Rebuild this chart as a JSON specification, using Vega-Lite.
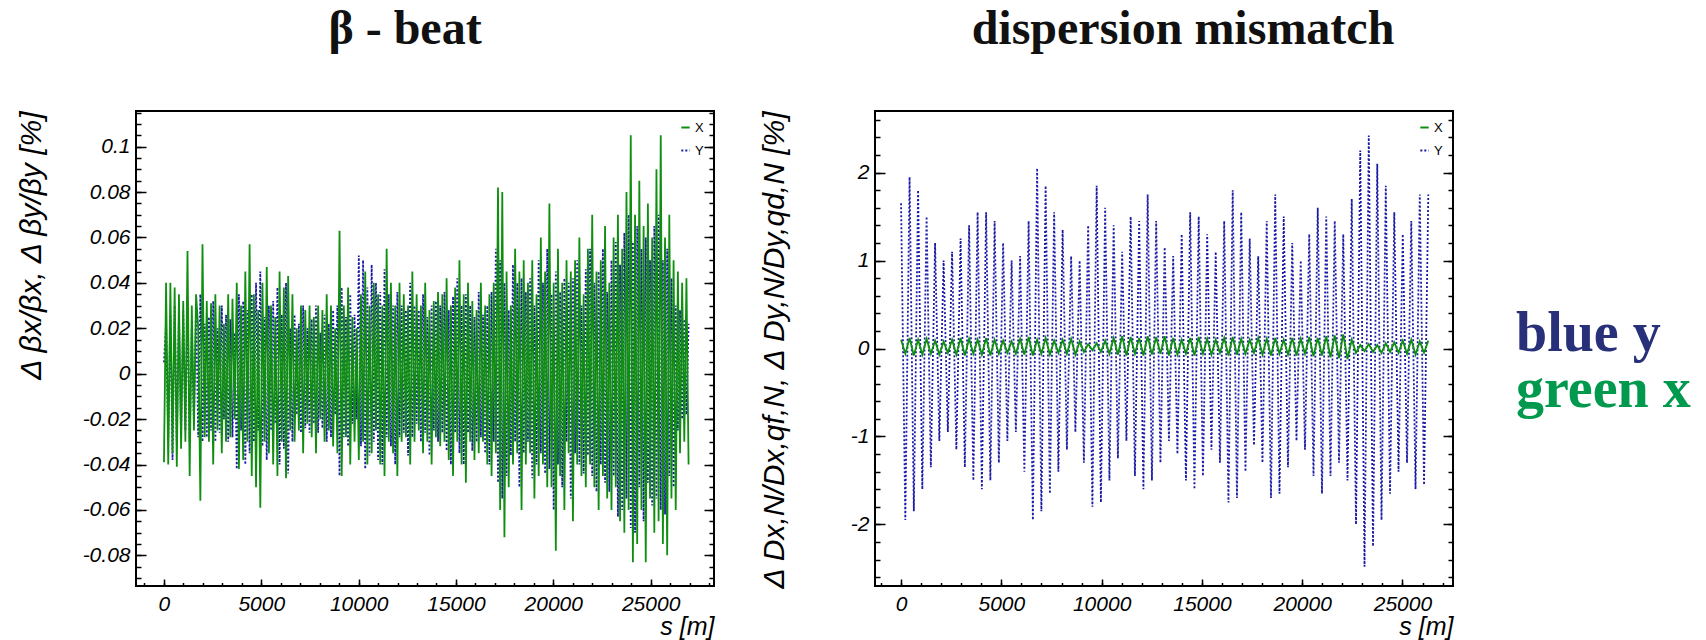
{
 "$schema": "https://vega.github.io/schema/vega-lite/v6.json",
 "padding": {"left": 14, "top": 5, "right": 0, "bottom": 0},
 "background": "white",
 "config": {
  "view": {"stroke": "#000", "strokeWidth": 2},
  "axis": {"grid": false, "domain": false, "tickColor": "#000", "tickWidth": 1.5, "labelFont": "Liberation Sans", "labelFontStyle": "italic", "labelFontSize": 21, "labelColor": "#000", "titleFont": "Liberation Sans", "titleFontStyle": "italic", "titleFontWeight": "normal", "titleColor": "#000", "labelOverlap": false, "labelFlush": false},
  "title": {"font": "Liberation Serif", "fontWeight": "bold", "fontSize": 48, "color": "#111", "offset": 57},
  "legend": {"orient": "top-right", "offset": 8, "padding": 2, "symbolType": "stroke", "symbolSize": 70, "symbolStrokeWidth": 2, "labelFont": "Liberation Sans", "labelFontSize": 13, "labelColor": "#000", "rowPadding": 9, "labelOffset": 3}
 },
 "datasets": {
  "beta": [
   {"s":0,"X":-0.039,"Y":0.005},{"s":110,"X":0.040,"Y":0.022},{"s":220,"X":-0.040,"Y":-0.028},{"s":330,"X":0.040,"Y":0.026},{"s":440,"X":-0.035,"Y":-0.038},{"s":550,"X":0.038,"Y":0.030},{"s":660,"X":-0.041,"Y":-0.030},{"s":770,"X":0.035,"Y":0.025},{"s":880,"X":-0.033,"Y":-0.028},{"s":990,"X":0.032,"Y":0.028},
   {"s":1100,"X":-0.030,"Y":-0.025},{"s":1210,"X":0.054,"Y":0.032},{"s":1320,"X":-0.045,"Y":-0.030},{"s":1430,"X":0.030,"Y":0.020},{"s":1540,"X":-0.025,"Y":-0.022},{"s":1650,"X":0.035,"Y":0.030},{"s":1760,"X":0.020,"Y":-0.028},{"s":1870,"X":-0.056,"Y":0.035},{"s":1980,"X":0.057,"Y":-0.030},{"s":2090,"X":-0.028,"Y":0.022},
   {"s":2200,"X":0.032,"Y":-0.028},{"s":2310,"X":-0.030,"Y":0.025},{"s":2420,"X":0.031,"Y":-0.025},{"s":2530,"X":-0.040,"Y":0.032},{"s":2640,"X":0.035,"Y":-0.030},{"s":2750,"X":-0.025,"Y":0.020},{"s":2860,"X":0.030,"Y":-0.026},{"s":2970,"X":-0.035,"Y":0.030},{"s":3080,"X":0.022,"Y":-0.020},{"s":3190,"X":-0.030,"Y":0.026},
   {"s":3300,"X":0.035,"Y":-0.030},{"s":3410,"X":-0.028,"Y":0.024},{"s":3520,"X":0.033,"Y":-0.028},{"s":3630,"X":-0.020,"Y":0.018},{"s":3740,"X":0.040,"Y":-0.042},{"s":3850,"X":-0.042,"Y":0.035},{"s":3960,"X":0.030,"Y":-0.025},{"s":4070,"X":-0.038,"Y":0.032},{"s":4180,"X":0.045,"Y":-0.040},{"s":4290,"X":-0.030,"Y":0.028},
   {"s":4400,"X":0.057,"Y":-0.035},{"s":4510,"X":-0.045,"Y":0.035},{"s":4620,"X":0.035,"Y":-0.030},{"s":4730,"X":-0.050,"Y":0.040},{"s":4840,"X":0.028,"Y":-0.025},{"s":4950,"X":-0.059,"Y":0.045},{"s":5060,"X":0.040,"Y":-0.032},{"s":5170,"X":-0.030,"Y":0.025},{"s":5280,"X":0.047,"Y":-0.038},{"s":5390,"X":-0.035,"Y":0.030},
   {"s":5500,"X":0.030,"Y":-0.025},{"s":5610,"X":-0.040,"Y":0.032},{"s":5720,"X":0.025,"Y":-0.022},{"s":5830,"X":-0.045,"Y":0.038},{"s":5940,"X":0.045,"Y":-0.040},{"s":6050,"X":-0.030,"Y":0.026},{"s":6160,"X":0.038,"Y":-0.033},{"s":6270,"X":-0.046,"Y":0.040},{"s":6380,"X":0.043,"Y":-0.044},{"s":6490,"X":-0.025,"Y":0.020},
   {"s":6600,"X":0.035,"Y":-0.030},{"s":6710,"X":-0.030,"Y":0.026},{"s":6820,"X":0.020,"Y":-0.018},{"s":6930,"X":-0.025,"Y":0.022},{"s":7040,"X":0.030,"Y":-0.026},{"s":7150,"X":-0.035,"Y":0.030},{"s":7260,"X":0.028,"Y":-0.024},{"s":7370,"X":-0.022,"Y":0.020},{"s":7480,"X":0.030,"Y":-0.026},{"s":7590,"X":-0.028,"Y":0.024},
   {"s":7700,"X":0.025,"Y":-0.022},{"s":7810,"X":-0.035,"Y":0.030},{"s":7920,"X":0.030,"Y":-0.026},{"s":8030,"X":-0.020,"Y":0.018},{"s":8140,"X":0.028,"Y":-0.024},{"s":8250,"X":-0.030,"Y":0.026},{"s":8360,"X":0.035,"Y":-0.030},{"s":8470,"X":-0.025,"Y":0.022},{"s":8580,"X":0.030,"Y":-0.028},{"s":8690,"X":-0.032,"Y":0.028},
   {"s":8800,"X":0.020,"Y":-0.018},{"s":8910,"X":-0.035,"Y":0.030},{"s":9020,"X":0.063,"Y":-0.045},{"s":9130,"X":-0.045,"Y":0.038},{"s":9240,"X":0.030,"Y":-0.028},{"s":9350,"X":-0.028,"Y":0.025},{"s":9460,"X":0.038,"Y":-0.032},{"s":9570,"X":-0.040,"Y":0.035},{"s":9680,"X":0.025,"Y":-0.022},{"s":9790,"X":-0.030,"Y":0.026},
   {"s":9900,"X":0.020,"Y":-0.020},{"s":10010,"X":-0.038,"Y":0.052},{"s":10120,"X":0.035,"Y":-0.032},{"s":10230,"X":-0.030,"Y":0.050},{"s":10340,"X":0.045,"Y":-0.042},{"s":10450,"X":-0.040,"Y":0.038},{"s":10560,"X":0.030,"Y":-0.036},{"s":10670,"X":-0.035,"Y":0.048},{"s":10780,"X":0.040,"Y":-0.030},{"s":10890,"X":-0.025,"Y":0.040},
   {"s":11000,"X":0.035,"Y":-0.038},{"s":11110,"X":-0.040,"Y":0.036},{"s":11220,"X":0.030,"Y":-0.040},{"s":11330,"X":-0.045,"Y":0.046},{"s":11440,"X":0.055,"Y":-0.028},{"s":11550,"X":-0.030,"Y":0.035},{"s":11660,"X":0.040,"Y":-0.032},{"s":11770,"X":-0.035,"Y":0.030},{"s":11880,"X":0.030,"Y":-0.040},{"s":11990,"X":-0.045,"Y":0.036},
   {"s":12100,"X":0.040,"Y":-0.028},{"s":12210,"X":-0.030,"Y":0.030},{"s":12320,"X":0.035,"Y":-0.026},{"s":12430,"X":-0.028,"Y":0.028},{"s":12540,"X":0.030,"Y":-0.036},{"s":12650,"X":-0.040,"Y":0.040},{"s":12760,"X":0.045,"Y":-0.028},{"s":12870,"X":-0.030,"Y":0.030},{"s":12980,"X":0.035,"Y":-0.022},{"s":13090,"X":-0.025,"Y":0.028},
   {"s":13200,"X":0.030,"Y":-0.030},{"s":13310,"X":-0.035,"Y":0.035},{"s":13420,"X":0.040,"Y":-0.026},{"s":13530,"X":-0.030,"Y":0.025},{"s":13640,"X":0.028,"Y":-0.036},{"s":13750,"X":-0.040,"Y":0.030},{"s":13860,"X":0.032,"Y":-0.025},{"s":13970,"X":-0.028,"Y":0.032},{"s":14080,"X":0.036,"Y":-0.030},{"s":14190,"X":-0.032,"Y":0.030},
   {"s":14300,"X":0.035,"Y":-0.026},{"s":14410,"X":-0.030,"Y":0.036},{"s":14520,"X":0.042,"Y":-0.034},{"s":14630,"X":-0.038,"Y":0.028},{"s":14740,"X":0.030,"Y":-0.040},{"s":14850,"X":-0.045,"Y":0.034},{"s":14960,"X":0.038,"Y":-0.026},{"s":15070,"X":-0.030,"Y":0.042},{"s":15180,"X":0.050,"Y":-0.035},{"s":15290,"X":-0.040,"Y":0.030},
   {"s":15400,"X":0.035,"Y":-0.040},{"s":15510,"X":-0.048,"Y":0.035},{"s":15620,"X":0.040,"Y":-0.026},{"s":15730,"X":-0.030,"Y":0.030},{"s":15840,"X":0.032,"Y":-0.034},{"s":15950,"X":-0.038,"Y":0.025},{"s":16060,"X":0.028,"Y":-0.030},{"s":16170,"X":-0.035,"Y":0.036},{"s":16280,"X":0.040,"Y":-0.028},{"s":16390,"X":-0.030,"Y":0.026},
   {"s":16500,"X":0.030,"Y":-0.035},{"s":16610,"X":-0.040,"Y":0.030},{"s":16720,"X":0.035,"Y":-0.040},{"s":16830,"X":-0.045,"Y":0.036},{"s":16940,"X":0.040,"Y":-0.030},{"s":17050,"X":-0.035,"Y":0.055},{"s":17160,"X":0.082,"Y":-0.048},{"s":17270,"X":-0.060,"Y":0.050},{"s":17380,"X":0.080,"Y":-0.055},{"s":17490,"X":-0.072,"Y":0.040},
   {"s":17600,"X":0.045,"Y":-0.045},{"s":17710,"X":-0.050,"Y":0.028},{"s":17820,"X":0.030,"Y":-0.036},{"s":17930,"X":-0.040,"Y":0.048},{"s":18040,"X":0.055,"Y":-0.030},{"s":18150,"X":-0.035,"Y":0.040},{"s":18260,"X":0.045,"Y":-0.050},{"s":18370,"X":-0.060,"Y":0.042},{"s":18480,"X":0.050,"Y":-0.035},{"s":18590,"X":-0.040,"Y":0.036},
   {"s":18700,"X":0.040,"Y":-0.030},{"s":18810,"X":-0.035,"Y":0.042},{"s":18920,"X":0.050,"Y":-0.046},{"s":19030,"X":-0.055,"Y":0.030},{"s":19140,"X":0.035,"Y":-0.040},{"s":19250,"X":-0.045,"Y":0.050},{"s":19360,"X":0.060,"Y":-0.035},{"s":19470,"X":-0.040,"Y":0.040},{"s":19580,"X":0.045,"Y":-0.044},{"s":19690,"X":-0.050,"Y":0.055},
   {"s":19800,"X":0.075,"Y":-0.042},{"s":19910,"X":-0.050,"Y":0.035},{"s":20020,"X":0.040,"Y":-0.060},{"s":20130,"X":-0.078,"Y":0.045},{"s":20240,"X":0.055,"Y":-0.040},{"s":20350,"X":-0.045,"Y":0.036},{"s":20460,"X":0.040,"Y":-0.050},{"s":20570,"X":-0.060,"Y":0.042},{"s":20680,"X":0.050,"Y":-0.030},{"s":20790,"X":-0.035,"Y":0.040},
   {"s":20900,"X":0.045,"Y":-0.055},{"s":21010,"X":-0.065,"Y":0.042},{"s":21120,"X":0.050,"Y":-0.035},{"s":21230,"X":-0.040,"Y":0.050},{"s":21340,"X":0.060,"Y":-0.040},{"s":21450,"X":-0.045,"Y":0.030},{"s":21560,"X":0.035,"Y":-0.044},{"s":21670,"X":-0.050,"Y":0.046},{"s":21780,"X":0.055,"Y":-0.036},{"s":21890,"X":-0.040,"Y":0.055},
   {"s":22000,"X":0.070,"Y":-0.045},{"s":22110,"X":-0.050,"Y":0.040},{"s":22220,"X":0.045,"Y":-0.052},{"s":22330,"X":-0.060,"Y":0.045},{"s":22440,"X":0.050,"Y":-0.040},{"s":22550,"X":-0.045,"Y":0.055},{"s":22660,"X":0.065,"Y":-0.048},{"s":22770,"X":-0.055,"Y":0.036},{"s":22880,"X":0.040,"Y":-0.052},{"s":22990,"X":-0.060,"Y":0.050},
   {"s":23100,"X":0.060,"Y":-0.045},{"s":23210,"X":-0.050,"Y":0.058},{"s":23320,"X":0.070,"Y":-0.063},{"s":23430,"X":-0.065,"Y":0.048},{"s":23540,"X":0.055,"Y":-0.060},{"s":23650,"X":-0.070,"Y":0.062},{"s":23760,"X":0.080,"Y":-0.055},{"s":23870,"X":-0.060,"Y":0.070},{"s":23980,"X":0.105,"Y":-0.068},{"s":24090,"X":-0.083,"Y":0.058},
   {"s":24200,"X":0.070,"Y":-0.070},{"s":24310,"X":-0.075,"Y":0.065},{"s":24420,"X":0.085,"Y":-0.050},{"s":24530,"X":-0.060,"Y":0.055},{"s":24640,"X":0.065,"Y":-0.065},{"s":24750,"X":-0.083,"Y":0.060},{"s":24860,"X":0.075,"Y":-0.048},{"s":24970,"X":-0.055,"Y":0.050},{"s":25080,"X":0.060,"Y":-0.058},{"s":25190,"X":-0.070,"Y":0.065},
   {"s":25300,"X":0.090,"Y":-0.055},{"s":25410,"X":-0.065,"Y":0.070},{"s":25520,"X":0.105,"Y":-0.060},{"s":25630,"X":-0.075,"Y":0.050},{"s":25740,"X":0.060,"Y":-0.062},{"s":25850,"X":-0.080,"Y":0.055},{"s":25960,"X":0.070,"Y":-0.045},{"s":26070,"X":-0.055,"Y":0.042},{"s":26180,"X":0.050,"Y":-0.050},{"s":26290,"X":-0.060,"Y":0.030},
   {"s":26400,"X":0.045,"Y":-0.025},{"s":26510,"X":-0.035,"Y":0.028},{"s":26620,"X":0.040,"Y":-0.020},{"s":26730,"X":-0.030,"Y":0.024},{"s":26840,"X":0.042,"Y":-0.018},{"s":26950,"X":-0.040,"Y":0.022}
  ],
  "disp": [
   {"s":0,"X":0.10,"Y":1.65},{"s":212,"X":-0.06,"Y":-1.95},{"s":424,"X":0.12,"Y":1.95},{"s":636,"X":-0.08,"Y":-1.85},{"s":848,"X":0.10,"Y":1.80},{"s":1060,"X":-0.07,"Y":-1.60},{"s":1272,"X":0.11,"Y":1.50},{"s":1484,"X":-0.06,"Y":-1.35},{"s":1696,"X":0.09,"Y":1.20},{"s":1908,"X":-0.07,"Y":-1.05},
   {"s":2120,"X":0.08,"Y":1.00},{"s":2332,"X":-0.05,"Y":-0.95},{"s":2544,"X":0.10,"Y":1.10},{"s":2756,"X":-0.07,"Y":-1.15},{"s":2968,"X":0.12,"Y":1.25},{"s":3180,"X":-0.08,"Y":-1.35},{"s":3392,"X":0.11,"Y":1.40},{"s":3604,"X":-0.06,"Y":-1.50},{"s":3816,"X":0.10,"Y":1.55},{"s":4028,"X":-0.07,"Y":-1.60},
   {"s":4240,"X":0.12,"Y":1.55},{"s":4452,"X":-0.08,"Y":-1.50},{"s":4664,"X":0.10,"Y":1.45},{"s":4876,"X":-0.06,"Y":-1.30},{"s":5088,"X":0.09,"Y":1.20},{"s":5300,"X":-0.05,"Y":-1.05},{"s":5512,"X":0.08,"Y":1.00},{"s":5724,"X":-0.06,"Y":-0.95},{"s":5936,"X":0.11,"Y":1.05},{"s":6148,"X":-0.07,"Y":-1.40},
   {"s":6360,"X":0.13,"Y":1.45},{"s":6572,"X":-0.08,"Y":-1.95},{"s":6784,"X":0.10,"Y":2.05},{"s":6996,"X":-0.06,"Y":-1.85},{"s":7208,"X":0.12,"Y":1.85},{"s":7420,"X":-0.07,"Y":-1.65},{"s":7632,"X":0.09,"Y":1.55},{"s":7844,"X":-0.05,"Y":-1.40},{"s":8056,"X":0.10,"Y":1.35},{"s":8268,"X":-0.06,"Y":-1.15},
   {"s":8480,"X":0.11,"Y":1.05},{"s":8692,"X":-0.07,"Y":-0.95},{"s":8904,"X":0.08,"Y":1.00},{"s":9116,"X":-0.04,"Y":-1.30},{"s":9328,"X":0.05,"Y":1.40},{"s":9540,"X":-0.02,"Y":-1.80},{"s":9752,"X":0.06,"Y":1.85},{"s":9964,"X":-0.04,"Y":-1.75},{"s":10176,"X":0.09,"Y":1.60},{"s":10388,"X":-0.06,"Y":-1.50},
   {"s":10600,"X":0.12,"Y":1.40},{"s":10812,"X":-0.07,"Y":-1.25},{"s":11024,"X":0.14,"Y":1.10},{"s":11236,"X":-0.08,"Y":-1.05},{"s":11448,"X":0.13,"Y":1.50},{"s":11660,"X":-0.06,"Y":-1.45},{"s":11872,"X":0.12,"Y":1.45},{"s":12084,"X":-0.08,"Y":-1.60},{"s":12296,"X":0.14,"Y":1.75},{"s":12508,"X":-0.07,"Y":-1.50},
   {"s":12720,"X":0.13,"Y":1.45},{"s":12932,"X":-0.06,"Y":-1.30},{"s":13144,"X":0.14,"Y":1.15},{"s":13356,"X":-0.08,"Y":-1.05},{"s":13568,"X":0.12,"Y":1.05},{"s":13780,"X":-0.07,"Y":-1.20},{"s":13992,"X":0.10,"Y":1.30},{"s":14204,"X":-0.06,"Y":-1.50},{"s":14416,"X":0.12,"Y":1.55},{"s":14628,"X":-0.08,"Y":-1.60},
   {"s":14840,"X":0.13,"Y":1.50},{"s":15052,"X":-0.06,"Y":-1.45},{"s":15264,"X":0.11,"Y":1.30},{"s":15476,"X":-0.07,"Y":-1.15},{"s":15688,"X":0.10,"Y":1.10},{"s":15900,"X":-0.05,"Y":-1.30},{"s":16112,"X":0.12,"Y":1.45},{"s":16324,"X":-0.08,"Y":-1.75},{"s":16536,"X":0.13,"Y":1.80},{"s":16748,"X":-0.07,"Y":-1.70},
   {"s":16960,"X":0.11,"Y":1.55},{"s":17172,"X":-0.06,"Y":-1.40},{"s":17384,"X":0.10,"Y":1.25},{"s":17596,"X":-0.05,"Y":-1.10},{"s":17808,"X":0.12,"Y":1.05},{"s":18020,"X":-0.07,"Y":-1.30},{"s":18232,"X":0.11,"Y":1.45},{"s":18444,"X":-0.08,"Y":-1.70},{"s":18656,"X":0.12,"Y":1.75},{"s":18868,"X":-0.06,"Y":-1.65},
   {"s":19080,"X":0.10,"Y":1.50},{"s":19292,"X":-0.07,"Y":-1.35},{"s":19504,"X":0.12,"Y":1.20},{"s":19716,"X":-0.08,"Y":-1.05},{"s":19928,"X":0.11,"Y":1.00},{"s":20140,"X":-0.06,"Y":-1.15},{"s":20352,"X":0.13,"Y":1.30},{"s":20564,"X":-0.09,"Y":-1.45},{"s":20776,"X":0.12,"Y":1.60},{"s":20988,"X":-0.08,"Y":-1.65},
   {"s":21200,"X":0.14,"Y":1.50},{"s":21412,"X":-0.10,"Y":-1.45},{"s":21624,"X":0.15,"Y":1.45},{"s":21836,"X":-0.11,"Y":-1.30},{"s":22048,"X":0.16,"Y":1.30},{"s":22260,"X":-0.12,"Y":-1.50},{"s":22472,"X":0.10,"Y":1.70},{"s":22684,"X":-0.05,"Y":-2.00},{"s":22896,"X":0.04,"Y":2.25},{"s":23108,"X":-0.03,"Y":-2.48},
   {"s":23320,"X":0.05,"Y":2.42},{"s":23532,"X":-0.04,"Y":-2.25},{"s":23744,"X":0.04,"Y":2.10},{"s":23956,"X":-0.05,"Y":-1.95},{"s":24168,"X":0.06,"Y":1.85},{"s":24380,"X":-0.04,"Y":-1.65},{"s":24592,"X":0.07,"Y":1.55},{"s":24804,"X":-0.05,"Y":-1.40},{"s":25016,"X":0.09,"Y":1.30},{"s":25228,"X":-0.06,"Y":-1.30},
   {"s":25440,"X":0.10,"Y":1.45},{"s":25652,"X":-0.07,"Y":-1.60},{"s":25864,"X":0.08,"Y":1.75},{"s":26076,"X":-0.05,"Y":-1.55},{"s":26288,"X":0.09,"Y":1.75}
  ],
  "labels": [{"label": "blue y"}, {"label": "green x"}]
 },
 "hconcat": [
  {
   "width": 578, "height": 475,
   "title": {"text": "β - beat", "dx": -20},
   "data": {"name": "beta"},
   "transform": [{"fold": ["Y", "X"], "as": ["series", "value"]}],
   "layer": [
    {
     "mark": {"type": "line", "strokeWidth": 1.8},
     "encoding": {
      "x": {"field": "s", "type": "quantitative", "scale": {"domain": [-1436, 28256], "nice": false, "zero": false},
            "axis": {"orient": "bottom", "values": [0, 5000, 10000, 15000, 20000, 25000], "labelExpr": "''+datum.value", "tickSize": -7, "labelPadding": 14, "minExtent": 28, "maxExtent": 28, "title": "s [m]", "titleFontSize": 25, "titleAnchor": "end", "titlePadding": 0}},
      "y": {"field": "value", "type": "quantitative", "scale": {"domain": [-0.0935, 0.1157], "nice": false, "zero": false},
            "axis": {"orient": "left", "values": [-0.08, -0.06, -0.04, -0.02, 0, 0.02, 0.04, 0.06, 0.08, 0.1], "labelExpr": "''+datum.value", "tickSize": -10, "labelPadding": 16, "minExtent": 54, "maxExtent": 54, "title": "Δ βx/βx,  Δ βy/βy  [%]", "titleFontSize": 30, "titleAnchor": "end", "titlePadding": 36}},
      "color": {"field": "series", "type": "nominal", "scale": {"domain": ["X", "Y"], "range": ["#0f8f0f", "#1a1aa6"]}, "legend": {"title": null}},
      "strokeDash": {"field": "series", "type": "nominal", "scale": {"domain": ["X", "Y"], "range": [[1, 0], [2, 2]]}, "legend": {"title": null}}
     }
    },
    {
     "mark": {"type": "line", "opacity": 0},
     "encoding": {
      "x": {"field": "s", "type": "quantitative", "scale": {"domain": [-1436, 28256], "nice": false, "zero": false},
            "axis": {"orient": "bottom", "values": [-1000, 0, 1000, 2000, 3000, 4000, 5000, 6000, 7000, 8000, 9000, 10000, 11000, 12000, 13000, 14000, 15000, 16000, 17000, 18000, 19000, 20000, 21000, 22000, 23000, 24000, 25000, 26000, 27000, 28000], "tickSize": -3.5, "labels": false, "title": null, "minExtent": 0, "maxExtent": 0}},
      "y": {"field": "value", "type": "quantitative", "scale": {"domain": [-0.0935, 0.1157], "nice": false, "zero": false},
            "axis": {"orient": "left", "values": [-0.09, -0.085, -0.08, -0.075, -0.07, -0.065, -0.06, -0.055, -0.05, -0.045, -0.04, -0.035, -0.03, -0.025, -0.02, -0.015, -0.01, -0.005, 0, 0.005, 0.01, 0.015, 0.02, 0.025, 0.03, 0.035, 0.04, 0.045, 0.05, 0.055, 0.06, 0.065, 0.07, 0.075, 0.08, 0.085, 0.09, 0.095, 0.1, 0.105, 0.11, 0.115], "tickSize": -5, "labels": false, "title": null, "minExtent": 0, "maxExtent": 0}},
      "detail": {"field": "series", "type": "nominal"}
     }
    },
    {
     "mark": {"type": "line", "opacity": 0},
     "encoding": {
      "x": {"field": "s", "type": "quantitative", "scale": {"domain": [-1436, 28256], "nice": false, "zero": false}, "axis": null},
      "y": {"field": "value", "type": "quantitative", "scale": {"domain": [-0.0935, 0.1157], "nice": false, "zero": false},
            "axis": {"orient": "right", "values": [-0.08, -0.06, -0.04, -0.02, 0, 0.02, 0.04, 0.06, 0.08, 0.1], "tickSize": -10, "labels": false, "title": null, "minExtent": 0, "maxExtent": 0}},
      "detail": {"field": "series", "type": "nominal"}
     }
    },
    {
     "mark": {"type": "line", "opacity": 0},
     "encoding": {
      "x": {"field": "s", "type": "quantitative", "scale": {"domain": [-1436, 28256], "nice": false, "zero": false}, "axis": null},
      "y": {"field": "value", "type": "quantitative", "scale": {"domain": [-0.0935, 0.1157], "nice": false, "zero": false},
            "axis": {"orient": "right", "values": [-0.09, -0.085, -0.08, -0.075, -0.07, -0.065, -0.06, -0.055, -0.05, -0.045, -0.04, -0.035, -0.03, -0.025, -0.02, -0.015, -0.01, -0.005, 0, 0.005, 0.01, 0.015, 0.02, 0.025, 0.03, 0.035, 0.04, 0.045, 0.05, 0.055, 0.06, 0.065, 0.07, 0.075, 0.08, 0.085, 0.09, 0.095, 0.1, 0.105, 0.11, 0.115], "tickSize": -5, "labels": false, "title": null, "minExtent": 0, "maxExtent": 0}},
      "detail": {"field": "series", "type": "nominal"}
     }
    }
   ],
   "resolve": {"axis": {"x": "independent", "y": "independent"}}
  },
  {
   "width": 578, "height": 475,
   "title": {"text": "dispersion mismatch", "dx": 19},
   "data": {"name": "disp"},
   "transform": [{"fold": ["Y", "X"], "as": ["series", "value"]}],
   "layer": [
    {
     "mark": {"type": "line", "strokeWidth": 1.8},
     "encoding": {
      "x": {"field": "s", "type": "quantitative", "scale": {"domain": [-1300, 27520], "nice": false, "zero": false},
            "axis": {"orient": "bottom", "values": [0, 5000, 10000, 15000, 20000, 25000], "labelExpr": "''+datum.value", "tickSize": -7, "labelPadding": 14, "minExtent": 28, "maxExtent": 28, "title": "s [m]", "titleFontSize": 25, "titleAnchor": "end", "titlePadding": 0}},
      "y": {"field": "value", "type": "quantitative", "scale": {"domain": [-2.7, 2.7], "nice": false, "zero": false},
            "axis": {"orient": "left", "values": [-2, -1, 0, 1, 2], "labelExpr": "''+datum.value", "tickSize": -10, "labelPadding": 16, "minExtent": 25, "maxExtent": 25, "title": "Δ Dx,N/Dx,qf,N,  Δ Dy,N/Dy,qd,N  [%]", "titleFontSize": 30, "titleAnchor": "end", "titlePadding": 61}},
      "color": {"field": "series", "type": "nominal", "scale": {"domain": ["X", "Y"], "range": ["#0f8f0f", "#1a1aa6"]}, "legend": {"title": null}},
      "strokeDash": {"field": "series", "type": "nominal", "scale": {"domain": ["X", "Y"], "range": [[1, 0], [2, 2]]}, "legend": {"title": null}}
     }
    },
    {
     "mark": {"type": "line", "opacity": 0},
     "encoding": {
      "x": {"field": "s", "type": "quantitative", "scale": {"domain": [-1300, 27520], "nice": false, "zero": false},
            "axis": {"orient": "bottom", "values": [-1000, 0, 1000, 2000, 3000, 4000, 5000, 6000, 7000, 8000, 9000, 10000, 11000, 12000, 13000, 14000, 15000, 16000, 17000, 18000, 19000, 20000, 21000, 22000, 23000, 24000, 25000, 26000, 27000], "tickSize": -3.5, "labels": false, "title": null, "minExtent": 0, "maxExtent": 0}},
      "y": {"field": "value", "type": "quantitative", "scale": {"domain": [-2.7, 2.7], "nice": false, "zero": false},
            "axis": {"orient": "left", "values": [-2.6, -2.4, -2.2, -2, -1.8, -1.6, -1.4, -1.2, -1, -0.8, -0.6, -0.4, -0.2, 0, 0.2, 0.4, 0.6, 0.8, 1, 1.2, 1.4, 1.6, 1.8, 2, 2.2, 2.4, 2.6], "tickSize": -5, "labels": false, "title": null, "minExtent": 0, "maxExtent": 0}},
      "detail": {"field": "series", "type": "nominal"}
     }
    },
    {
     "mark": {"type": "line", "opacity": 0},
     "encoding": {
      "x": {"field": "s", "type": "quantitative", "scale": {"domain": [-1300, 27520], "nice": false, "zero": false}, "axis": null},
      "y": {"field": "value", "type": "quantitative", "scale": {"domain": [-2.7, 2.7], "nice": false, "zero": false},
            "axis": {"orient": "right", "values": [-2, -1, 0, 1, 2], "tickSize": -10, "labels": false, "title": null, "minExtent": 0, "maxExtent": 0}},
      "detail": {"field": "series", "type": "nominal"}
     }
    },
    {
     "mark": {"type": "line", "opacity": 0},
     "encoding": {
      "x": {"field": "s", "type": "quantitative", "scale": {"domain": [-1300, 27520], "nice": false, "zero": false}, "axis": null},
      "y": {"field": "value", "type": "quantitative", "scale": {"domain": [-2.7, 2.7], "nice": false, "zero": false},
            "axis": {"orient": "right", "values": [-2.6, -2.4, -2.2, -2, -1.8, -1.6, -1.4, -1.2, -1, -0.8, -0.6, -0.4, -0.2, 0, 0.2, 0.4, 0.6, 0.8, 1, 1.2, 1.4, 1.6, 1.8, 2, 2.2, 2.4, 2.6], "tickSize": -5, "labels": false, "title": null, "minExtent": 0, "maxExtent": 0}},
      "detail": {"field": "series", "type": "nominal"}
     }
    }
   ],
   "resolve": {"axis": {"x": "independent", "y": "independent"}}
  },
  {
   "width": 40, "height": 475,
   "view": {"stroke": null},
   "data": {"name": "labels"},
   "mark": {"type": "text", "font": "Liberation Serif", "fontWeight": "bold", "fontSize": 56, "align": "left", "baseline": "alphabetic"},
   "encoding": {
    "y": {"field": "label", "type": "nominal", "scale": {"type": "band", "domain": ["blue y", "green x"], "paddingInner": 0, "paddingOuter": 0, "range": [212, 324]}, "axis": null},
    "text": {"field": "label"},
    "color": {"field": "label", "type": "nominal", "scale": {"domain": ["blue y", "green x"], "range": ["#283079", "#00994d"]}, "legend": null}
   }
  }
 ],
 "spacing": 41,
 "resolve": {"scale": {"x": "independent", "y": "independent", "color": "independent", "strokeDash": "independent"}, "legend": {"color": "independent", "strokeDash": "independent"}}
}
